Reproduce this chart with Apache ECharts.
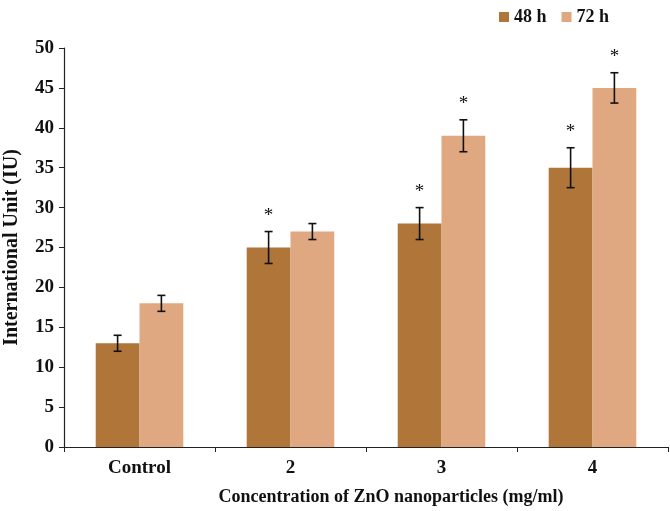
<!DOCTYPE html>
<html>
<head>
<meta charset="utf-8">
<script src="https://cdn.jsdelivr.net/npm/echarts@6/dist/echarts.min.js"></script>
<style>html,body{margin:0;padding:0;background:#fff}#c{width:670px;height:511px}</style>
</head>
<body>
<div id="c"></div>
<script>
const categories = ['Control', '2', '3', '4'];
const h48 = [13, 25, 28, 35];
const h72 = [18, 27, 39, 45];
const err48 = [1, 2, 2, 2.5];
const err72 = [1, 1, 2, 1.9];
const sig48 = [0, 1, 1, 1];
const sig72 = [0, 0, 1, 1];
const yTicks = [0, 5, 10, 15, 20, 25, 30, 35, 40, 45, 50];

const FONT = '"Liberation Serif", "Times New Roman", serif';
const C48 = '#b07539';
const C72 = '#dfa880';
const GAP = 0.42;

function errData(vals, errs, sigs) {
  return vals.map((v, i) => [i, v, errs[i], sigs[i]]);
}

function makeErr(sign) {
  return function (params, api) {
    const i = api.value(0), v = api.value(1), e = api.value(2), s = api.value(3);
    const catW = api.size([1, 0])[0];
    const barW = catW * (1 - GAP) / 2;
    const c = api.coord([i, v]);
    const x = c[0] + sign * barW / 2;
    const top = api.coord([i, v + e])[1];
    const bot = api.coord([i, v - e])[1];
    const cap = 4;
    const st = { stroke: '#111', lineWidth: 1.6 };
    const children = [
      { type: 'line', shape: { x1: x, y1: top, x2: x, y2: bot }, style: st },
      { type: 'line', shape: { x1: x - cap, y1: top, x2: x + cap, y2: top }, style: st },
      { type: 'line', shape: { x1: x - cap, y1: bot, x2: x + cap, y2: bot }, style: st }
    ];
    if (s) {
      children.push({
        type: 'text',
        style: { text: '*', x: x, y: top - 16, align: 'center', verticalAlign: 'middle',
                 font: '19px ' + FONT, fill: '#111' }
      });
    }
    return { type: 'group', children: children };
  };
}

const chart = echarts.init(document.getElementById('c'));
chart.setOption({
  animation: false,
  backgroundColor: '#fff',
  legend: {
    top: 3, left: 494, itemWidth: 10, itemHeight: 10, itemGap: 15,
    icon: 'rect',
    textStyle: { fontFamily: FONT, fontWeight: 'bold', fontSize: 18, color: '#111' },
    data: ['48 h', '72 h']
  },
  grid: { left: 64, right: 2, top: 48, bottom: 64, containLabel: false, outerBoundsMode: 'none' },
  xAxis: {
    type: 'category', data: categories,
    axisLine: { lineStyle: { color: '#222', width: 1.2 } },
    axisTick: { show: true, length: 5, lineStyle: { color: '#222' } },
    axisLabel: { fontFamily: FONT, fontWeight: 'bold', fontSize: 19, color: '#111', margin: 12 },
    name: 'Concentration of ZnO nanoparticles (mg/ml)',
    nameLocation: 'middle', nameGap: 41,
    nameTextStyle: { fontFamily: FONT, fontWeight: 'bold', fontSize: 18, color: '#111', padding: [0, 0, 0, 50] }
  },
  yAxis: {
    type: 'value', min: 0, max: 50, interval: 5,
    axisLine: { show: true, lineStyle: { color: '#222', width: 1.2 } },
    axisTick: { show: true, length: 5, lineStyle: { color: '#222' } },
    splitLine: { show: false },
    axisLabel: { fontFamily: FONT, fontWeight: 'bold', fontSize: 19, color: '#111', margin: 10,
      formatter: v => yTicks.includes(v) ? String(v) : '' },
    name: 'International Unit (IU)',
    nameLocation: 'middle', nameGap: 42,
    nameTextStyle: { fontFamily: FONT, fontWeight: 'bold', fontSize: 20, color: '#111' }
  },
  series: [
    { name: '48 h', type: 'bar', data: h48, barGap: '0%', barCategoryGap: (GAP * 100) + '%',
      itemStyle: { color: C48 } },
    { name: '72 h', type: 'bar', data: h72, barGap: '0%', barCategoryGap: (GAP * 100) + '%',
      itemStyle: { color: C72 } },
    { type: 'custom', renderItem: makeErr(-1), data: errData(h48, err48, sig48), z: 10,
      encode: { x: 0, y: 1 } },
    { type: 'custom', renderItem: makeErr(1), data: errData(h72, err72, sig72), z: 10,
      encode: { x: 0, y: 1 } }
  ]
});
</script>
</body>
</html>
